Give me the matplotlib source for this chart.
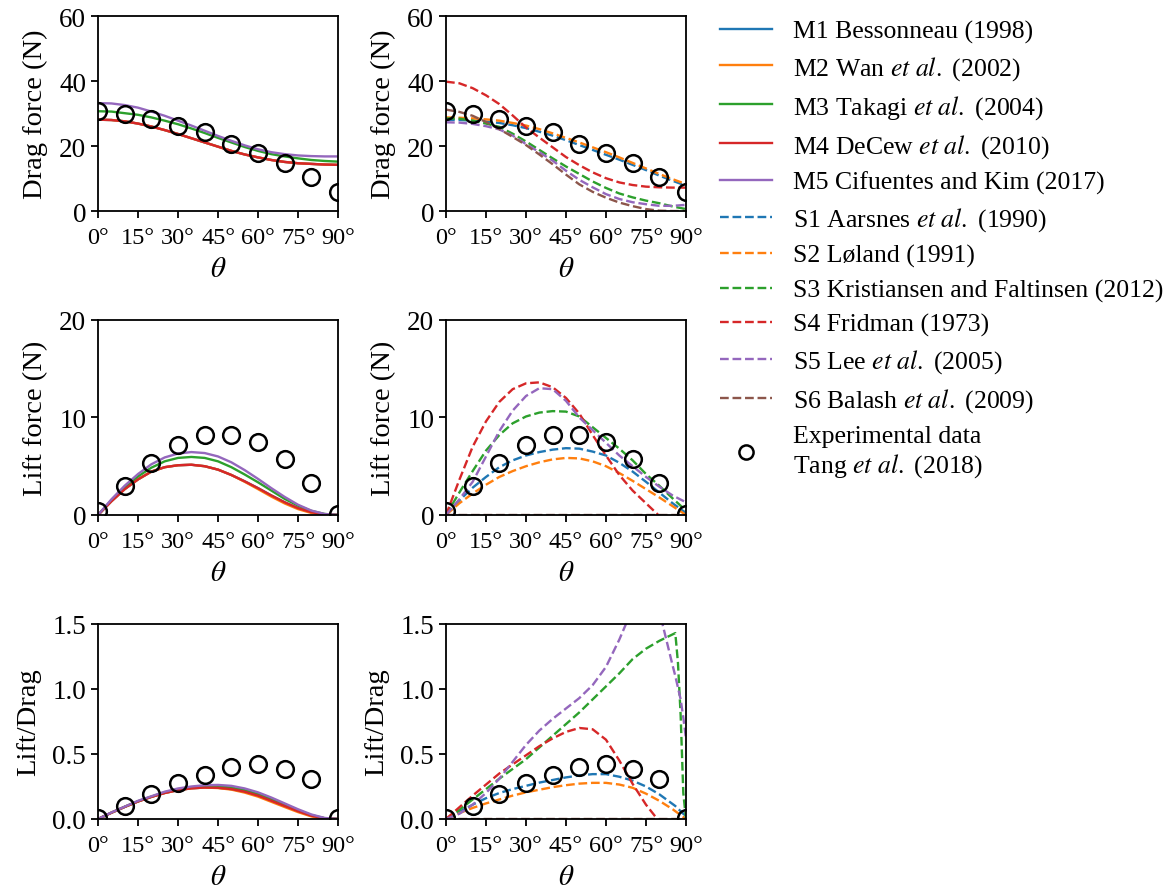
import numpy as np
import matplotlib
matplotlib.use("Agg")
import matplotlib.pyplot as plt

plt.rcParams['font.family'] = ['Liberation Serif', 'DejaVu Serif']
plt.rcParams['mathtext.fontset'] = 'stix'
plt.rcParams['font.size'] = 19.5
plt.rcParams['axes.linewidth'] = 1.3
plt.rcParams['xtick.major.width'] = 1.3
plt.rcParams['ytick.major.width'] = 1.3
plt.rcParams['xtick.major.size'] = 5
plt.rcParams['ytick.major.size'] = 5
plt.rcParams['xtick.major.pad'] = 6.5
plt.rcParams['xtick.labelsize'] = 17.5
plt.rcParams['ytick.labelsize'] = 19.5

# ---------------- data ----------------
theta = [0, 5, 10, 15, 20, 25, 30, 35, 40, 45, 50, 55, 60, 65, 70, 75, 80, 85, 90]
theta_ratio = [0, 5, 10, 15, 20, 25, 30, 35, 40, 45, 50, 55, 60, 65, 70, 75, 80, 85,
               86, 87, 88, 89, 90]

# experimental data (Tang et al. 2018)
exp_theta = [0, 10, 20, 30, 40, 50, 60, 70, 80, 90]
exp_drag = [30.9, 29.8, 28.3, 26.1, 24.2, 20.6, 17.8, 14.8, 10.6, 5.9]
exp_lift = [0.45, 3.0, 5.35, 7.15, 8.2, 8.2, 7.5, 5.7, 3.25, 0.1]
exp_ratio = [0.01, 0.10, 0.19, 0.275, 0.34, 0.40, 0.42, 0.385, 0.31, 0.01]

# models M1-M5: drag force (N)
m1_drag = [28.1, 28.0, 27.6, 26.9, 26.0, 24.9, 23.7, 22.4, 21.1, 19.8, 18.5, 17.4, 16.5, 15.7, 15.1, 14.7, 14.5, 14.3, 14.2]
m2_drag = [28.1, 28.0, 27.6, 26.9, 26.0, 24.9, 23.7, 22.4, 21.1, 19.8, 18.5, 17.4, 16.5, 15.7, 15.1, 14.7, 14.5, 14.3, 14.2]
m3_drag = [30.7, 30.6, 30.1, 29.6, 28.8, 27.8, 26.7, 25.4, 24.0, 22.5, 21.1, 19.7, 18.5, 17.5, 16.8, 16.2, 15.7, 15.4, 15.2]
m4_drag = [28.1, 28.0, 27.6, 26.9, 26.0, 24.9, 23.7, 22.4, 21.1, 19.8, 18.5, 17.4, 16.5, 15.7, 15.1, 14.7, 14.5, 14.3, 14.2]
m5_drag = [33.2, 33.1, 32.6, 31.8, 30.6, 29.3, 27.8, 26.3, 24.7, 23.1, 21.6, 20.2, 19.0, 18.1, 17.5, 17.1, 16.9, 16.8, 16.8]

# models M1-M5: lift force (N)
m1_lift = [0, 1.4, 2.65, 3.65, 4.45, 4.9, 5.1, 5.15, 5.0, 4.65, 4.1, 3.45, 2.75, 2.0, 1.3, 0.7, 0.28, 0.05, 0]
m2_lift = [0, 1.4, 2.65, 3.65, 4.45, 4.9, 5.1, 5.15, 5.0, 4.65, 4.1, 3.4, 2.65, 1.88, 1.18, 0.6, 0.2, 0.02, 0]
m3_lift = [0, 1.5, 2.85, 3.95, 4.85, 5.5, 5.85, 5.95, 5.85, 5.5, 4.9, 4.15, 3.35, 2.5, 1.65, 0.95, 0.42, 0.1, 0]
m4_lift = [0, 1.4, 2.65, 3.65, 4.45, 4.9, 5.1, 5.15, 5.0, 4.65, 4.1, 3.45, 2.75, 2.0, 1.3, 0.7, 0.28, 0.05, 0]
m5_lift = [0, 1.6, 3.0, 4.2, 5.2, 5.9, 6.3, 6.45, 6.35, 6.0, 5.4, 4.6, 3.7, 2.75, 1.85, 1.05, 0.45, 0.1, 0]

# models M1-M5: lift/drag
m1_ratio = [0, 0.048, 0.093, 0.135, 0.17, 0.2, 0.222, 0.236, 0.242, 0.24, 0.23, 0.21, 0.18, 0.14, 0.1, 0.06, 0.025, 0.005, 0]
m2_ratio = [0, 0.048, 0.093, 0.135, 0.17, 0.2, 0.222, 0.236, 0.242, 0.238, 0.226, 0.203, 0.172, 0.132, 0.092, 0.053, 0.02, 0.003, 0]
m3_ratio = [0, 0.049, 0.094, 0.137, 0.172, 0.205, 0.229, 0.243, 0.25, 0.25, 0.242, 0.222, 0.192, 0.153, 0.11, 0.067, 0.03, 0.006, 0]
m4_ratio = [0, 0.048, 0.093, 0.135, 0.17, 0.2, 0.222, 0.236, 0.242, 0.24, 0.23, 0.21, 0.18, 0.14, 0.1, 0.06, 0.025, 0.005, 0]
m5_ratio = [0, 0.05, 0.095, 0.14, 0.175, 0.21, 0.235, 0.25, 0.26, 0.262, 0.255, 0.235, 0.205, 0.165, 0.12, 0.075, 0.035, 0.008, 0]

# semi-empirical S1-S6: drag force (N)
s1_drag = [28.1, 28.0, 27.8, 27.5, 27.1, 26.4, 25.5, 24.4, 23.2, 21.8, 20.3, 18.8, 17.3, 15.8, 14.2, 12.6, 10.9, 9.3, 7.8]
s2_drag = [28.8, 28.7, 28.5, 28.2, 27.8, 27.1, 26.3, 25.2, 23.9, 22.5, 21.1, 19.6, 18.1, 16.5, 14.8, 13.1, 11.4, 9.8, 8.3]
s3_drag = [28.5, 28.4, 27.8, 26.9, 25.9, 23.8, 21.4, 18.8, 16.2, 13.7, 11.4, 9.1, 7.1, 5.4, 4.2, 3.2, 2.4, 1.4, 0.6]
s4_drag = [39.8, 39.3, 37.8, 35.6, 32.9, 29.4, 25.7, 22.6, 19.6, 16.6, 14.1, 11.9, 10.1, 8.8, 8.0, 7.5, 7.3, 7.2, 7.2]
s5_drag = [27.3, 27.2, 26.8, 26.1, 25.1, 23.2, 20.6, 18.1, 15.5, 12.4, 9.6, 7.3, 5.2, 3.7, 2.7, 2.1, 1.6, 1.6, 1.9]
s6_drag = [31.2, 30.5, 29.3, 27.4, 25.2, 22.8, 20.3, 17.4, 14.4, 11.2, 8.2, 5.9, 4.1, 2.6, 1.5, 0.6, 0.1, 0.0, 0.0]

# semi-empirical S1-S6: lift force (N)
s1_lift = [0, 1.5, 2.8, 3.9, 4.9, 5.6, 6.1, 6.45, 6.7, 6.85, 6.8, 6.5, 6.1, 5.35, 4.45, 3.4, 2.3, 1.2, 0.2]
s2_lift = [0, 1.2, 2.2, 3.1, 3.9, 4.5, 5.0, 5.4, 5.7, 5.85, 5.8, 5.5, 5.0, 4.3, 3.5, 2.65, 1.8, 0.9, 0]
s3_lift = [0, 2.3, 4.5, 6.6, 8.2, 9.4, 10.1, 10.5, 10.65, 10.6, 10.1, 9.0, 7.9, 6.8, 5.6, 4.2, 3.0, 1.7, 0.45]
s4_lift = [0, 3.6, 7.0, 9.6, 11.6, 12.9, 13.5, 13.6, 13.1, 12.0, 10.4, 8.2, 6.1, 4.1, 2.5, 1.2, -0.1, -0.8, -1.2]
s5_lift = [0, 1.6, 3.4, 6.0, 8.6, 10.7, 12.2, 13.0, 12.9, 11.7, 10.0, 8.7, 7.4, 6.1, 5.0, 3.9, 2.9, 2.0, 1.3]
s6_lift = [0] * 19

# semi-empirical S1-S6: lift/drag
s1_ratio = [0, 0.055, 0.11, 0.16, 0.2, 0.23, 0.255, 0.28, 0.3, 0.32, 0.335, 0.345, 0.345, 0.325, 0.295, 0.25,
            0.19, 0.115, 0.1, 0.08, 0.06, 0.04, 0.025]
s2_ratio = [0, 0.045, 0.085, 0.12, 0.15, 0.18, 0.205, 0.225, 0.245, 0.26, 0.272, 0.278, 0.278, 0.265, 0.24, 0.195,
            0.14, 0.075, 0.06, 0.045, 0.03, 0.015, 0]
s3_ratio = [0, 0.07, 0.15, 0.23, 0.31, 0.385, 0.46, 0.55, 0.64, 0.73, 0.82, 0.92, 1.02, 1.12, 1.23, 1.31,
            1.37, 1.42, 1.43, 1.2, 0.8, 0.2, 0]
s4_ratio = [0, 0.09, 0.18, 0.265, 0.35, 0.42, 0.49, 0.56, 0.62, 0.67, 0.70, 0.69, 0.61, 0.45, 0.27, 0.11,
            -0.02, -0.3, -0.35, -0.4, -0.45, -0.5, -0.5]
s5_ratio = [0, 0.04, 0.11, 0.2, 0.31, 0.44, 0.57, 0.68, 0.77, 0.85, 0.93, 1.03, 1.17, 1.38, 1.62, 1.8,
            1.6, 1.18, 1.1, 1.01, 0.92, 0.78, 0.62]
s6_ratio = [0] * 23

m_labels = ['M1 Bessonneau (1998)',
            r'M2 Wan $\it{et\ al.}$ (2002)',
            r'M3 Takagi $\it{et\ al.}$ (2004)',
            r'M4 DeCew $\it{et\ al.}$ (2010)',
            'M5 Cifuentes and Kim (2017)']
s_labels = [r'S1 Aarsnes $\it{et\ al.}$ (1990)',
            'S2 Løland (1991)',
            'S3 Kristiansen and Faltinsen (2012)',
            'S4 Fridman (1973)',
            r'S5 Lee $\it{et\ al.}$ (2005)',
            r'S6 Balash $\it{et\ al.}$ (2009)']
exp_label = 'Experimental data\n' + r'Tang $\it{et\ al.}$ (2018)'

m_colors = ['tab:blue', 'tab:orange', 'tab:green', 'tab:red', 'tab:purple']
s_colors = ['tab:blue', 'tab:orange', 'tab:green', 'tab:red', 'tab:purple', 'tab:brown']

m_sets = [[m1_drag, m2_drag, m3_drag, m4_drag, m5_drag],
          [m1_lift, m2_lift, m3_lift, m4_lift, m5_lift],
          [m1_ratio, m2_ratio, m3_ratio, m4_ratio, m5_ratio]]
s_sets = [[s1_drag, s2_drag, s3_drag, s4_drag, s5_drag, s6_drag],
          [s1_lift, s2_lift, s3_lift, s4_lift, s5_lift, s6_lift],
          [s1_ratio, s2_ratio, s3_ratio, s4_ratio, s5_ratio, s6_ratio]]
exp_sets = [exp_drag, exp_lift, exp_ratio]

row_ylabels = ['Drag force (N)', 'Lift force (N)', 'Lift/Drag']
row_ylims = [(0, 60), (0, 20), (0, 1.5)]
row_yticks = [[0, 20, 40, 60], [0, 10, 20], [0.0, 0.5, 1.0, 1.5]]
row_yticklabels = [['0', '20', '40', '60'], ['0', '10', '20'], ['0.0', '0.5', '1.0', '1.5']]
xticks = [0, 15, 30, 45, 60, 75, 90]

# ---------------- figure ----------------
fig = plt.figure(figsize=(11.7, 8.95), dpi=100)

col_left = [0.0838, 0.3812]
col_width = 0.2051
row_bottom = [0.7631, 0.4235, 0.0838]
row_height = 0.2179

m_handles = []
s_handles = []
exp_handle = None

for r in range(3):
    for c in range(2):
        ax = fig.add_axes([col_left[c], row_bottom[r], col_width, row_height])
        if c == 0:
            x = theta
            for i, y in enumerate(m_sets[r]):
                ln, = ax.plot(x, y, color=m_colors[i], lw=1.7, ls='-')
                if r == 0:
                    m_handles.append(ln)
        else:
            x = theta if r < 2 else theta_ratio
            for i, y in enumerate(s_sets[r]):
                ln, = ax.plot(x, y, color=s_colors[i], lw=1.7, ls='--')
                if r == 0:
                    s_handles.append(ln)
        pts, = ax.plot(exp_theta, exp_sets[r], 'o', ms=12, mfc='none', mec='black',
                       mew=1.8, zorder=5)
        exp_handle = pts

        ax.set_xlim(0, 90)
        ax.set_ylim(*row_ylims[r])
        ax.set_xticks(xticks)
        ax.set_xticklabels([f'{t}°' for t in xticks])
        ax.set_yticks(row_yticks[r])
        ax.set_yticklabels(row_yticklabels[r])
        ax.set_xlabel(r'$\theta$', fontsize=21, labelpad=6)
        ax.set_ylabel(row_ylabels[r], fontsize=20.5, labelpad=8)

fig.legend(m_handles + s_handles + [exp_handle], m_labels + s_labels + [exp_label],
           loc='upper left', bbox_to_anchor=(0.615, 0.977), frameon=False,
           fontsize=18.5, handlelength=2.06, handletextpad=0.78, labelspacing=0.43,
           borderpad=0, borderaxespad=0, markerscale=0.85)

fig.savefig('out.png', dpi=100)
